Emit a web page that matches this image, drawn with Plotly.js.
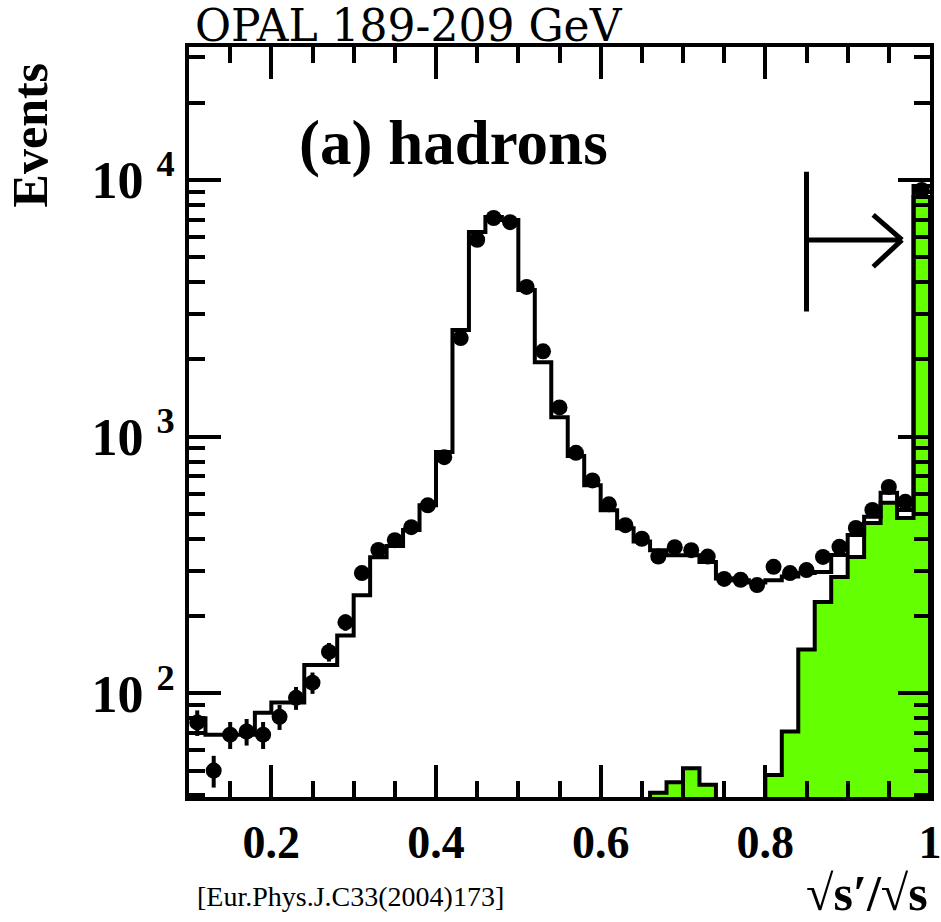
<!DOCTYPE html>
<html>
<head>
<meta charset="utf-8">
<script src="https://cdn.plot.ly/plotly-3.0.1.min.js"></script>
<style>
html,body{margin:0;padding:0;background:#fff;}
#chart{width:941px;height:922px;}
</style>
</head>
<body>
<div id="chart"></div>
<script>
// bin centres of sqrt(s')/sqrt(s) (bin width 0.02)
const binCenters = [0.11,0.13,0.15,0.17,0.19,0.21,0.23,0.25,0.27,0.29,
                    0.31,0.33,0.35,0.37,0.39,0.41,0.43,0.45,0.47,0.49,
                    0.51,0.53,0.55,0.57,0.59,0.61,0.63,0.65,0.67,0.69,
                    0.71,0.73,0.75,0.77,0.79,0.81,0.83,0.85,0.87,0.89,
                    0.91,0.93,0.95,0.97,0.99];
const binHalfWidth = 0.01;

// OPAL data (events)
const dataEvents = [77,50,69,71,69,81,96,110,145,189,
                    294,362,395,444,540,832,2420,5850,7110,6850,
                    3830,2150,1300,865,675,545,452,400,341,371,
                    361,341,279,277,264,311,294,302,340,372,
                    441,518,637,557,9140];

// Total Monte Carlo expectation (open histogram)
const mcTotal = [80,69,69,69,84,92,92,129,129,168,
                 241,339,375,433,540,871,2600,6270,7170,6980,
                 3730,1950,1190,840,647,517,440,390,361,345,
                 345,325,280,276,270,276,285,294,297,346,
                 414,487,604,518,9480];

// Non-radiative (green filled) component
const mcGreen = [0,0,0,0,0,0,0,0,0,0,
                 0,0,0,0,0,0,0,0,0,0,
                 0,0,0,0,0,0,0,0,41,45,
                 51,44,0,0,0,48,71,148,227,284,
                 340,461,552,482,8590];

const xTickVals = [0.2,0.4,0.6,0.8,1.0];
const xTickText = ['0.2','0.4','0.6','0.8','1'];
const yTickVals = [100,1000,10000];
const yTickText = ['10 <sup>2</sup>','10 <sup>3</sup>','10 <sup>4</sup>'];
const yMinorVals = [40,50,60,70,80,90,200,300,400,500,600,700,800,900,
                    2000,3000,4000,5000,6000,7000,8000,9000,20000,30000];

// selection cut position
const cutValue = 0.85;

const FLOOR = 1; // below the visible log range, used for empty bins

// --- build step outlines from the bins ---
const mcX = [], mcY = [];
binCenters.forEach((c,i)=>{ mcX.push(c-binHalfWidth); mcY.push(mcTotal[i]); });
mcX.push(binCenters[binCenters.length-1]+binHalfWidth);
mcY.push(mcTotal[mcTotal.length-1]);

const gX = [binCenters[0]-binHalfWidth], gY = [FLOOR];
binCenters.forEach((c,i)=>{
  const v = mcGreen[i] > 0 ? mcGreen[i] : FLOOR;
  gX.push(c-binHalfWidth, c+binHalfWidth);
  gY.push(v, v);
});
gX.push(binCenters[binCenters.length-1]+binHalfWidth);
gY.push(FLOOR);

const errs = dataEvents.map(v=>Math.sqrt(v));

const FONT = 'Liberation Serif, Times New Roman, serif';
const FONT_TITLE = 'DejaVu Serif, serif';

const traces = [
  {type:'scatter', mode:'lines', x:gX, y:gY, fill:'toself',
   fillcolor:'rgb(100,255,0)', line:{color:'black', width:4}, hoverinfo:'skip'},
  {type:'scatter', mode:'lines', x:mcX, y:mcY, line:{color:'black', width:4, shape:'hv'}},
  {type:'scatter', mode:'markers', x:binCenters, y:dataEvents,
   marker:{color:'black', size:16, symbol:'circle'},
   error_y:{type:'data', array:errs, visible:true, thickness:4, width:0, color:'black'}}
];

// arrow indicating the cut
const yArrow = 5840;
const shapes = [
  {type:'line', xref:'x', yref:'y', x0:cutValue, x1:cutValue, y0:3070, y1:10770,
   line:{color:'black', width:5}},
  {type:'line', xref:'x', yref:'y', x0:cutValue, x1:0.966, y0:yArrow, y1:yArrow,
   line:{color:'black', width:5}},
  {type:'line', xref:'x', yref:'y', x0:0.931, x1:0.966, y0:7310, y1:yArrow,
   line:{color:'black', width:5}},
  {type:'line', xref:'x', yref:'y', x0:0.931, x1:0.966, y0:4590, y1:yArrow,
   line:{color:'black', width:5}}
];

const layout = {
  width:941, height:922,
  margin:{l:189, r:11, t:47, b:125},
  paper_bgcolor:'white', plot_bgcolor:'white',
  showlegend:false,
  font:{family:FONT, color:'black'},
  xaxis:{
    range:[0.1,1.0], showgrid:false, zeroline:false,
    showline:true, linewidth:4, linecolor:'black', mirror:'allticks',
    ticks:'inside', ticklen:32, tickwidth:4, tickcolor:'black',
    tickmode:'array', tickvals:xTickVals, ticktext:xTickText,
    tickfont:{family:FONT, size:46, color:'black', weight:'bold'},
    ticklabelstandoff:2, ticklabeloverflow:'allow',
    minor:{ticks:'inside', tick0:0.1, dtick:0.05, ticklen:16, tickwidth:4, tickcolor:'black'}
  },
  yaxis:{
    type:'log', range:[1.596,4.518], showgrid:false, zeroline:false,
    showline:true, linewidth:4, linecolor:'black', mirror:'allticks',
    ticks:'inside', ticklen:32, tickwidth:4, tickcolor:'black',
    tickmode:'array', tickvals:yTickVals, ticktext:yTickText,
    tickfont:{family:FONT, size:52, color:'black', weight:'bold'},
    ticklabeloverflow:'allow',
    minor:{ticks:'inside', tickmode:'array', tickvals:yMinorVals, ticklen:16, tickwidth:4, tickcolor:'black'}
  },
  shapes:shapes,
  annotations:[
    {text:'OPAL 189-209 GeV', xref:'paper', yref:'paper', x:0.006, y:1.0287,
     xanchor:'left', yanchor:'middle', showarrow:false,
     font:{family:FONT_TITLE, size:44, color:'black'}},
    {text:'<b>(a) hadrons</b>', xref:'paper', yref:'paper', x:0.1457, y:0.872,
     xanchor:'left', yanchor:'middle', showarrow:false,
     font:{family:FONT, size:63, color:'black'}},
    {text:'<b>Events</b>', xref:'paper', yref:'paper', x:-0.214, y:0.8827,
     xanchor:'center', yanchor:'middle', showarrow:false, textangle:-90,
     font:{family:FONT, size:50, color:'black'}},
    {text:'<b>\u221As\u2032/\u221As</b>', xref:'paper', yref:'paper', x:1.0, y:-0.128,
     xanchor:'right', yanchor:'middle', showarrow:false,
     font:{family:FONT, size:50, color:'black'}},
    {text:'[Eur.Phys.J.C33(2004)173]', xref:'paper', yref:'paper', x:0.008, y:-0.133,
     xanchor:'left', yanchor:'middle', showarrow:false,
     font:{family:FONT, size:28, color:'black'}}
  ]
};

Plotly.newPlot('chart', traces, layout, {staticPlot:true, displayModeBar:false});
</script>
</body>
</html>
